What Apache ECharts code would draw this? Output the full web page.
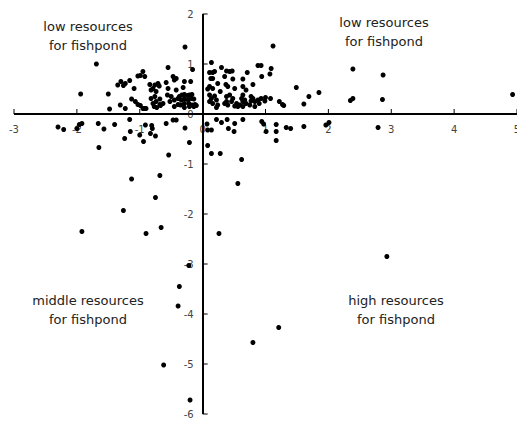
<!DOCTYPE html>
<html>
<head>
<meta charset="utf-8">
<script src="https://cdn.jsdelivr.net/npm/echarts@6/dist/echarts.min.js"></script>
<style>html,body{margin:0;padding:0;background:#fff}#c{width:517px;height:421px}#ov{position:absolute;left:20px;top:150px;width:480px;font:11px sans-serif;color:transparent;pointer-events:none}</style>
</head>
<body>
<div id="c"></div>
<div id="ov"></div>
<script>
// Upper-left quadrant
var ulX = [-1.69,-1.94,-0.28,-0.16,-0.55,-1.50,-1.48,-1.31,-1.23,-1.30,-1.35,-1.26,-1.23,-1.16,-1.09,-0.99,-0.92,-0.95,-1.03,
  -1.13,-1.07,-1.03,-0.99,-0.95,-0.92,-0.84,-0.76,-0.71,-0.82,-0.74,-0.82,-0.76,-0.68,-0.79,-0.74,-0.68,-0.63,-0.77,-0.73,-0.67,
  -0.58,-0.55,-0.47,-0.45,-0.42,-0.56,-0.50,-0.52,-0.45,-0.39,-0.42,-0.31,-0.29,-0.19,-0.37,-0.33,-0.29,-0.24,-0.21,-0.17,
  -0.34,-0.29,-0.23,-0.18,-0.14,-0.35,-0.29,-0.22,-0.17,-0.12,-0.29,-0.21,-0.14,-0.10,-0.45,-0.39,-0.90,-0.79,-0.69];
var ulY = [1.00,0.40,1.34,0.89,0.93,0.40,0.10,0.18,0.11,0.65,0.58,0.57,0.61,0.67,0.51,0.77,0.75,0.85,0.76,
  0.30,0.25,0.19,0.17,0.11,0.11,0.59,0.58,0.61,0.48,0.45,0.31,0.35,0.30,0.21,0.25,0.19,0.21,0.15,0.13,0.17,
  0.63,0.51,0.75,0.68,0.71,0.38,0.35,0.25,0.28,0.31,0.48,0.53,0.65,0.65,0.35,0.38,0.39,0.37,0.38,0.39,
  0.28,0.30,0.28,0.31,0.30,0.18,0.21,0.21,0.18,0.19,0.13,0.15,0.15,0.17,0.15,0.19,0.11,0.51,0.56];
// Upper-right quadrant
var urX = [1.12,0.14,0.30,0.11,0.16,0.19,0.38,0.43,0.47,0.88,0.93,1.09,0.94,1.07,0.71,0.13,0.16,0.35,0.48,0.64,
  0.24,0.37,0.80,0.11,0.08,0.16,0.40,0.64,0.69,0.51,0.28,1.49,0.11,0.19,0.14,0.22,0.11,0.16,0.24,0.22,
  0.38,0.43,0.48,0.46,0.35,0.40,0.38,0.54,0.51,0.59,0.56,0.64,0.64,0.62,0.67,0.64,0.77,0.80,0.77,0.83,
  0.69,0.75,0.83,0.88,0.93,1.00,1.08,0.90,0.99,1.22,1.27,1.29,1.69,1.61,1.85,2.39,2.35,2.39,2.87,2.86,4.93];
var urY = [1.36,1.03,0.93,0.83,0.83,0.85,0.86,0.85,0.86,0.97,0.97,0.91,0.75,0.80,0.83,0.71,0.71,0.75,0.70,0.70,
  0.61,0.59,0.59,0.55,0.50,0.51,0.55,0.55,0.48,0.51,0.45,0.53,0.38,0.36,0.31,0.28,0.25,0.21,0.18,0.13,
  0.35,0.38,0.31,0.25,0.21,0.18,0.25,0.21,0.16,0.18,0.15,0.15,0.38,0.31,0.28,0.25,0.35,0.31,0.26,0.25,
  0.21,0.18,0.15,0.28,0.31,0.33,0.31,0.21,0.26,0.25,0.19,0.17,0.35,0.20,0.43,0.90,0.27,0.31,0.78,0.29,0.39];
// Lower-left quadrant
var llX = [-2.30,-2.21,-2.00,-1.96,-1.92,-1.66,-1.57,-1.40,-1.16,-1.15,-1.24,-1.65,-1.00,-0.91,-0.81,-0.80,-0.83,-0.75,-0.94,
  -0.58,-0.47,-0.42,-0.28,-0.21,-0.54,-0.68,-1.13,-1.26,-0.75,-1.92,-0.90,-0.66,-0.22,-0.37,-0.39,-0.62,-0.20];
var llY = [-0.26,-0.31,-0.29,-0.21,-0.19,-0.19,-0.30,-0.21,-0.11,-0.35,-0.49,-0.67,-0.42,-0.22,-0.23,-0.29,-0.39,-0.44,-0.55,
  -0.19,-0.12,-0.12,-0.28,-0.57,-0.82,-1.23,-1.30,-1.93,-1.67,-2.35,-2.39,-2.27,-3.03,-3.45,-3.84,-5.02,-5.72];
// Lower-right quadrant
var lrX = [0.07,0.08,0.14,0.22,0.30,0.39,0.41,0.51,0.50,0.64,0.94,0.97,1.01,1.17,1.17,1.17,1.33,1.40,1.61,1.96,2.01,2.79,
  0.08,0.14,0.28,0.62,0.56,0.26,2.93,1.21,0.80];
var lrY = [-0.20,-0.32,-0.32,-0.11,-0.17,-0.11,-0.29,-0.19,-0.35,-0.11,-0.15,-0.20,-0.35,-0.21,-0.35,-0.53,-0.27,-0.29,-0.25,-0.22,-0.17,-0.27,
  -0.63,-0.79,-0.79,-0.91,-1.39,-2.39,-2.85,-4.27,-4.57];

// tick positions of the two axes
var xTicks = [-3,-2,-1,0,1,2,3,4,5];
var yTicks = [-6,-5,-4,-3,-2,-1,0,1,2];

var quadrantLabels = ['low resources\nfor fishpond','low resources\nfor fishpond','middle resources\nfor fishpond','high resources\nfor fishpond'];

function pairs(xs, ys){ var out=[]; for(var i=0;i<xs.length;i++) out.push([xs[i], ys[i]]); return out; }
var allData = pairs(ulX,ulY).concat(pairs(urX,urY), pairs(llX,llY), pairs(lrX,lrY));
var tickData = xTicks.map(function(v){ return [v, 0, 0]; }).concat(yTicks.map(function(v){ return [0, v, 1]; }));

var font = 'DejaVu Sans';
var X_MIN = xTicks[0], X_MAX = xTicks[xTicks.length-1], Y_MIN = yTicks[0], Y_MAX = yTicks[yTicks.length-1];
var GRID = {left:14, right:0, top:14, bottom:7};
var W = 517, H = 421;
var gridW = W - GRID.left - GRID.right, gridH = H - GRID.top - GRID.bottom;
// shift the label rows from the grid edge to the zero lines, via the axis ranges
var xAxisShift = -gridH * (0 - Y_MIN) / (Y_MAX - Y_MIN);
var yAxisShift = -gridW * (0 - X_MIN) / (X_MAX - X_MIN);

function labelAxis(min, max, pos, margin, offset){
  return {
    type:'value', min:min, max:max, interval:1, position:pos, offset:offset,
    splitLine:{show:false},
    axisLine:{show:false, onZero:false},
    axisTick:{show:false},
    axisLabel:{fontFamily:font, fontSize:10, color:'#444', margin:margin}
  };
}
var textStyle = {fontFamily:font, fontSize:13, fill:'#222', textAlign:'center', lineHeight:19};
var chart = echarts.init(document.getElementById('c'), null, {renderer:'svg'});
document.getElementById('ov').textContent = 'v' + echarts.version;
chart.setOption({
  animation:false,
  grid:Object.assign({outerBoundsMode:'none'}, GRID),
  xAxis: labelAxis(X_MIN, X_MAX, 'bottom', 10, xAxisShift),
  yAxis: labelAxis(Y_MIN, Y_MAX, 'left', 9, yAxisShift),
  graphic:[
    {type:'text', x:88, y:17, style:Object.assign({text:quadrantLabels[0]}, textStyle)},
    {type:'text', x:384, y:13, style:Object.assign({text:quadrantLabels[1]}, textStyle)},
    {type:'text', x:88, y:291, style:Object.assign({text:quadrantLabels[2]}, textStyle)},
    {type:'text', x:396, y:291, style:Object.assign({text:quadrantLabels[3]}, textStyle)}
  ],
  series:[{
    type:'scatter',
    data: allData,
    symbolSize:5,
    z:3,
    itemStyle:{color:'#000', opacity:1},
    markLine:{
      silent:true,
      symbol:['none','none'],
      animation:false,
      label:{show:false},
      lineStyle:{color:'#000', width:2, type:'solid', opacity:1},
      emphasis:{disabled:true},
      data:[{xAxis:0},{yAxis:0}]
    }
  },{
    type:'custom',
    data: tickData,
    silent:true,
    z:2,
    renderItem:function(params, api){
      var p = api.coord([api.value(0), api.value(1)]);
      var isX = api.value(2) === 0;
      return {
        type:'line',
        shape: isX ? {x1:p[0], y1:p[1], x2:p[0], y2:p[1]-5} : {x1:p[0], y1:p[1], x2:p[0]+5, y2:p[1]},
        style:{stroke:'#000', lineWidth:1}
      };
    }
  }]
});
</script>
</body>
</html>
